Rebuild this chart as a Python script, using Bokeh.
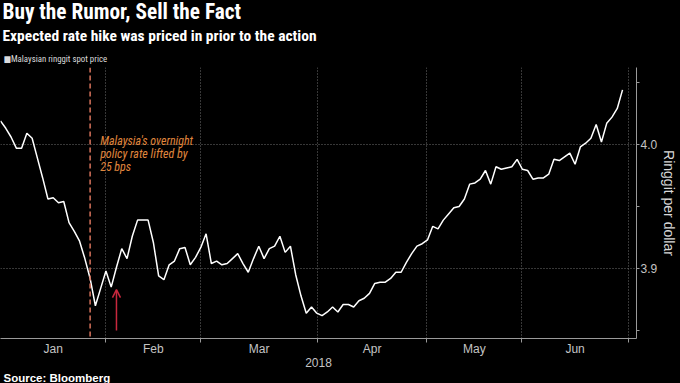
from bokeh.plotting import figure
from bokeh.models import (Range1d, LinearAxis, FixedTicker, Span, Label, Arrow,
                          OpenHead, Grid, Title, PrintfTickFormatter,
                          GlobalInlineStyleSheet)
from bokeh.embed import file_html
from bokeh.resources import INLINE

# Malaysian ringgit spot price (ringgit per dollar), trading days Jan-Jun 2018
spot = [4.019, 4.013, 4.006, 3.997, 3.997, 4.009, 4.005, 3.989, 3.973, 3.956,
        3.957, 3.953, 3.954, 3.937, 3.930, 3.922, 3.908, 3.892, 3.870, 3.884,
        3.898, 3.885, 3.901, 3.916, 3.908, 3.926, 3.939, 3.939, 3.939, 3.921,
        3.894, 3.891, 3.903, 3.906, 3.916, 3.917, 3.903, 3.909, 3.917, 3.928,
        3.904, 3.906, 3.903, 3.904, 3.908, 3.912, 3.904, 3.897, 3.908, 3.918,
        3.908, 3.916, 3.918, 3.926, 3.913, 3.918, 3.895, 3.878, 3.864, 3.869,
        3.864, 3.862, 3.865, 3.869, 3.865, 3.871, 3.871, 3.869, 3.874, 3.876,
        3.880, 3.888, 3.889, 3.889, 3.892, 3.897, 3.897, 3.905, 3.912, 3.918,
        3.920, 3.923, 3.934, 3.932, 3.939, 3.944, 3.949, 3.950, 3.956, 3.968,
        3.969, 3.972, 3.979, 3.968, 3.982, 3.980, 3.981, 3.982, 3.988, 3.980,
        3.979, 3.972, 3.973, 3.973, 3.976, 3.988, 3.987, 3.990, 3.993, 3.984,
        3.998, 4.001, 4.005, 4.016, 4.002, 4.017, 4.022, 4.029, 4.044]
day = list(range(len(spot)))

month_names = ["Jan", "Feb", "Mar", "Apr", "May", "Jun"]
month_bounds = [0.0, 20.0, 38.0, 60.1, 80.9, 98.9, 119.1]   # trading-day index of month starts
year_label = "2018"
y_major = [3.9, 4.0]
y_minor = [3.85, 3.95, 4.05]
hike_day = 17          # 25 Jan 2018, policy rate raised
arrow_day = 22
arrow_from, arrow_to = 3.850, 3.883

month_mids = [(a + b) / 2 for a, b in zip(month_bounds[:-1], month_bounds[1:])]

NARROW = "'Roboto Condensed', 'DejaVu Sans Condensed', 'Liberation Sans Narrow', sans-serif"
SANS = "Liberation Sans"
GRID = "#6e6e6e"
AXIS = "#9a9a9a"
TICK_TXT = "#c4c4c4"

p = figure(width=680, height=383, output_backend="svg", toolbar_location=None,
           x_range=Range1d(0, 120.65), y_range=Range1d(3.8436, 4.062),
           y_axis_location=None,
           background_fill_color="black", border_fill_color="black",
           outline_line_color=None,
           min_border_left=0, min_border_right=42, min_border_top=67, min_border_bottom=43)
p.stylesheets = [GlobalInlineStyleSheet(css="html,body{margin:0;padding:0;background:#000;overflow:hidden}")]

p.xgrid.visible = False
p.ygrid.visible = False
p.add_layout(Grid(dimension=0, ticker=FixedTicker(ticks=month_bounds[1:]),
                  grid_line_color=GRID, grid_line_dash="1 2", grid_line_width=1))
p.add_layout(Grid(dimension=1, ticker=FixedTicker(ticks=y_major),
                  grid_line_color=GRID, grid_line_dash="1 2", grid_line_width=1))

xa = p.xaxis[0]
xa.ticker = FixedTicker(ticks=month_mids, minor_ticks=month_bounds[1:])
xa.major_label_overrides = {m: n for m, n in zip(month_mids, month_names)}
xa.major_tick_out = 0
xa.major_tick_in = 0
xa.minor_tick_out = 4
xa.minor_tick_in = 0
xa.minor_tick_line_color = AXIS
xa.axis_line_color = AXIS
xa.major_label_text_color = TICK_TXT
xa.major_label_text_font = SANS
xa.major_label_text_font_size = "12px"
xa.major_label_standoff = -1
xa.axis_label = year_label
xa.axis_label_text_color = TICK_TXT
xa.axis_label_text_font = SANS
xa.axis_label_text_font_size = "12px"
xa.axis_label_text_font_style = "normal"
xa.axis_label_standoff = -1

ya = LinearAxis(ticker=FixedTicker(ticks=y_major, minor_ticks=y_minor),
                formatter=PrintfTickFormatter(format="%.1f"),
                axis_label="Ringgit per dollar")
ya.axis_line_color = AXIS
ya.major_tick_line_color = AXIS
ya.minor_tick_line_color = AXIS
ya.major_tick_out = 3
ya.major_tick_in = 0
ya.minor_tick_out = 3
ya.minor_tick_in = 0
ya.major_label_text_color = TICK_TXT
ya.major_label_text_font = SANS
ya.major_label_text_font_size = "12px"
ya.major_label_standoff = 1
ya.axis_label_text_color = "#d8d8d8"
ya.axis_label_text_font = SANS
ya.axis_label_text_font_size = "14px"
ya.axis_label_text_font_style = "normal"
ya.axis_label_text_line_height = 1.0
ya.axis_label_standoff = 1
p.add_layout(ya, "right")

p.line(day, spot, line_color="white", line_width=1.5)

p.add_layout(Span(location=hike_day, dimension="height", line_color="#d8735c",
                  line_dash="5 3", line_width=1.5))
p.add_layout(Label(x=hike_day + 1.9, y=4.0088,
                   text="Malaysia's overnight\npolicy rate lifted by\n25 bps",
                   text_font=NARROW, text_font_style="italic", text_font_size="12px",
                   text_color="#e0873e", text_baseline="top", text_line_height=0.95))
p.add_layout(Arrow(x_start=arrow_day, y_start=arrow_from, x_end=arrow_day, y_end=arrow_to,
                   line_color="#c8283e", line_width=1.5,
                   end=OpenHead(size=8, line_color="#c8283e", line_width=1.5)))

# header lines (stacked outward from the frame) and source line
p.add_layout(Title(text="\u25a0Malaysian ringgit spot price", align="left", offset=3,
                   text_font=NARROW, text_font_style="normal", text_font_size="8.8px",
                   text_color="#dcdcdc", standoff=7), "above")
p.add_layout(Title(text="Expected rate hike was priced in prior to the action", align="left",
                   offset=2, text_font=NARROW, text_font_style="bold", text_font_size="15.5px",
                   text_color="white", standoff=8), "above")
p.add_layout(Title(text="Buy the Rumor, Sell the Fact", align="left", offset=2,
                   text_font=NARROW, text_font_style="bold", text_font_size="21.3px",
                   text_color="white", standoff=-7), "above")
p.add_layout(Title(text="Source: Bloomberg", align="left", offset=3,
                   text_font=SANS, text_font_style="bold", text_font_size="11.5px",
                   text_color="white", standoff=0), "below")

open("out.html", "w").write(file_html(p, INLINE))
